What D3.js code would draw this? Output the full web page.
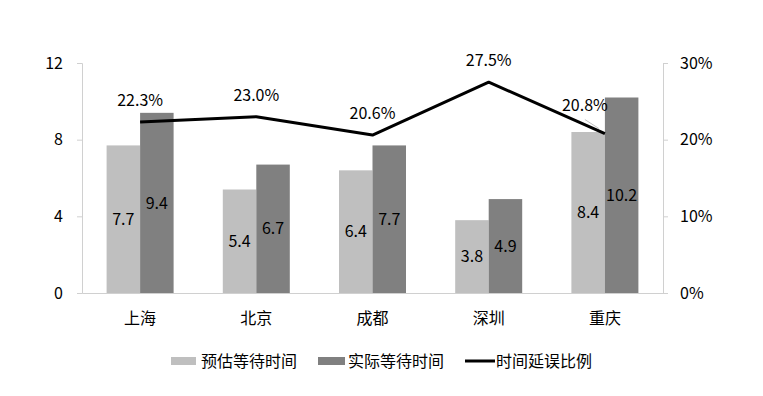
<!DOCTYPE html>
<html><head><meta charset="utf-8">
<script src="https://cdn.jsdelivr.net/npm/d3@7"></script>
<style>body{margin:0;background:#fff;}svg{display:block;font-family:"Noto Sans CJK SC","Noto Sans",sans-serif;}</style>
</head><body><svg id="c" width="763" height="396"></svg>
<script>
const categories = ["上海","北京","成都","深圳","重庆"];
const estimated = [7.7,5.4,6.4,3.8,8.4];
const actual = [9.4,6.7,7.7,4.9,10.2];
const delayRatio = [0.223,0.230,0.206,0.275,0.208];
const leftTicks = [0,4,8,12];
const rightTicks = [0,0.1,0.2,0.3];
const seriesNames = ["预估等待时间","实际等待时间","时间延误比例"];

const svg = d3.select("#c");
const L = 82, R = 663, T = 63, B = 293;
const FS = "16px";
const x = d3.scaleBand().domain(categories).range([L,R]).paddingInner(0).paddingOuter(0);
const yL = d3.scaleLinear().domain([0,12]).range([B,T]);
const yR = d3.scaleLinear().domain([0,0.3]).range([B,T]);
const bw = 33.5;
const axisCol = "#d0d0d0";

// axes
const gl = svg.append("g").attr("transform",`translate(${L},0)`).call(d3.axisLeft(yL).tickValues(leftTicks).tickSize(5).tickPadding(14));
const gr = svg.append("g").attr("transform",`translate(${R},0)`).call(d3.axisRight(yR).tickValues(rightTicks).tickSize(5).tickPadding(12).tickFormat(d3.format(".0%")));
[gl,gr].forEach(g=>{
  g.select(".domain").attr("stroke",axisCol);
  g.selectAll(".tick line").attr("stroke",axisCol);
  g.selectAll(".tick text").attr("fill","#000").style("font-size",FS).style("font-family",'"Noto Sans CJK SC","Noto Sans",sans-serif');
});
const gb = svg.append("g").attr("transform",`translate(0,${B})`).call(d3.axisBottom(x).tickSize(0).tickPadding(20));
gb.select(".domain").attr("stroke",axisCol);
gb.selectAll(".tick text").attr("fill","#000").style("font-size",FS).style("font-family",'"Noto Sans CJK SC",sans-serif');

const cx = d => x(d) + x.bandwidth()/2;

// bars
const g = svg.append("g");
categories.forEach((c,i)=>{
  g.append("rect").attr("x",cx(c)-bw).attr("y",yL(estimated[i])).attr("width",bw).attr("height",B-yL(estimated[i])).attr("fill","#bfbfbf");
  g.append("rect").attr("x",cx(c)).attr("y",yL(actual[i])).attr("width",bw).attr("height",B-yL(actual[i])).attr("fill","#808080");
  g.append("text").attr("x",cx(c)-bw/2).attr("y",(yL(estimated[i])+B)/2).attr("text-anchor","middle").attr("dy","0.35em").style("font-size",FS).text(estimated[i].toFixed(1));
  g.append("text").attr("x",cx(c)+bw/2).attr("y",(yL(actual[i])+B)/2).attr("text-anchor","middle").attr("dy","0.35em").style("font-size",FS).text(actual[i].toFixed(1));
});

// line
const line = d3.line().x((d,i)=>cx(categories[i])).y(d=>yR(d));
svg.append("path").datum(delayRatio).attr("d",line).attr("fill","none").attr("stroke","#000").attr("stroke-width",3).attr("stroke-linejoin","round");
delayRatio.forEach((v,i)=>{
  const px = cx(categories[i]), py = yR(v);
  const last = i===categories.length-1;
  const lx = last ? px-20 : px, ly = last ? py-23 : py-16;
  if(last){
    svg.append("line").attr("x1",px-6).attr("y1",py-5).attr("x2",px-20).attr("y2",py-14).attr("stroke","#bfbfbf").attr("stroke-width",1);
  }
  svg.append("text").attr("x",lx).attr("y",ly).attr("text-anchor","middle").style("font-size",FS).text(d3.format(".1%")(v));
});

// legend
const lg = svg.append("g");
const ly = 361;
lg.append("rect").attr("x",171).attr("y",ly-4).attr("width",25).attr("height",8).attr("fill","#bfbfbf");
lg.append("text").attr("x",201).attr("y",ly).attr("dy","0.35em").style("font-size",FS).text(seriesNames[0]);
lg.append("rect").attr("x",318).attr("y",ly-4).attr("width",27).attr("height",8).attr("fill","#808080");
lg.append("text").attr("x",348).attr("y",ly).attr("dy","0.35em").style("font-size",FS).text(seriesNames[1]);
lg.append("line").attr("x1",465).attr("x2",495).attr("y1",ly).attr("y2",ly).attr("stroke","#000").attr("stroke-width",3);
lg.append("text").attr("x",496).attr("y",ly).attr("dy","0.35em").style("font-size",FS).text(seriesNames[2]);
</script></body></html>
